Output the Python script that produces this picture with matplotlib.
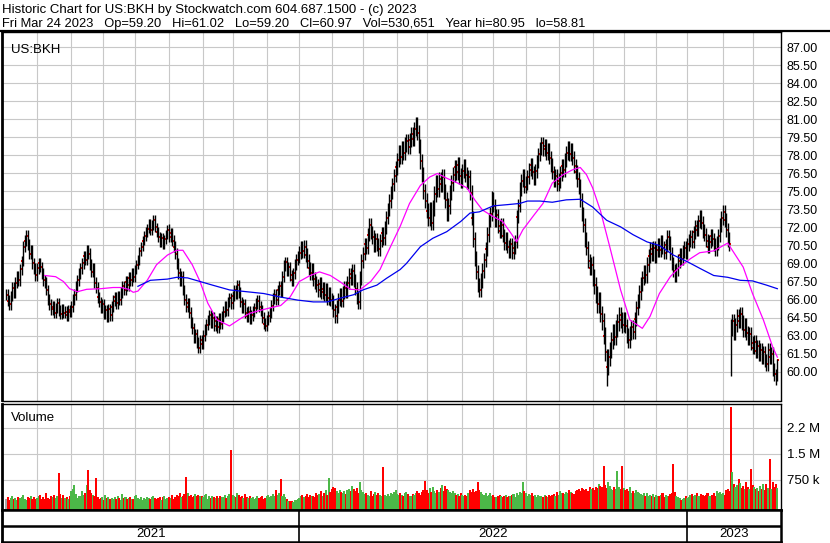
import numpy as np
import matplotlib
matplotlib.use('Agg')
import matplotlib.pyplot as plt

plt.rcParams['font.family'] = ['Liberation Sans', 'DejaVu Sans']

W, H = 830, 543

# daily closes, Apr 2021 .. Mar 24 2023 (one line = 10 sessions)
closes = [
    66.4, 65.9, 65.6, 66.3, 67.0, 66.6, 67.4, 67.9, 67.6, 68.5,
    69.2, 70.4, 70.9, 71.3, 70.6, 69.8, 70.1, 69.0, 68.6, 68.0,
    68.6, 69.0, 68.7, 68.2, 67.6, 67.4, 66.8, 66.0, 65.6, 65.2,
    65.4, 64.9, 65.3, 65.7, 65.1, 64.8, 65.2, 64.9, 65.0, 64.7,
    65.1, 65.0, 65.4, 66.0, 66.4, 67.1, 67.6, 68.2, 68.6, 69.0,
    69.6, 69.3, 70.1, 69.8, 68.9, 68.3, 68.6, 67.4, 67.0, 66.2,
    65.8, 65.3, 65.6, 64.8, 65.1, 64.6, 65.2, 64.7, 65.4, 65.9,
    66.2, 65.7, 66.3, 66.0, 66.6, 67.1, 66.8, 67.5, 67.2, 67.8,
    67.6, 68.2, 67.9, 68.5, 68.9, 69.3, 70.0, 70.4, 70.9, 71.3,
    71.6, 71.9, 72.3, 71.8, 72.2, 72.6, 72.0, 71.6, 71.2, 70.8,
    71.1, 70.6, 71.0, 71.4, 71.8, 71.2, 71.5, 70.9, 70.4, 69.8,
    69.0, 68.2, 67.6, 67.9, 66.8, 66.0, 65.4, 65.7, 64.9, 64.1,
    63.6, 62.8, 63.1, 62.4, 62.0, 62.6, 62.3, 63.0, 63.5, 63.9,
    64.3, 64.7, 64.1, 64.5, 63.8, 64.2, 63.7, 64.4, 64.0, 64.6,
    65.0, 65.4, 65.1, 65.8, 66.1, 65.7, 66.3, 66.8, 66.5, 67.2,
    66.6, 65.8, 65.3, 65.6, 64.9, 64.6, 65.0, 64.4, 64.7, 65.0,
    65.3, 65.7, 65.9, 65.4, 65.1, 64.5, 64.0, 63.8, 64.3, 64.6,
    64.9, 65.5, 66.1, 66.4, 66.0, 66.8, 67.1, 66.7, 67.9, 68.8,
    69.1, 68.4, 68.7, 68.0, 67.6, 68.2, 68.9, 69.3, 69.6, 69.9,
    70.3, 70.0, 70.4, 69.7, 69.2, 68.6, 68.2, 68.5, 67.7, 67.4,
    67.2, 66.8, 67.3, 66.6, 66.9, 66.4, 66.8, 66.1, 66.5, 66.0,
    65.8, 65.1, 64.6, 65.4, 66.0, 66.4, 65.9, 66.6, 67.0, 66.7,
    67.4, 68.1, 67.8, 68.4, 67.6, 66.9, 66.2, 65.8, 67.8, 69.2,
    69.8, 70.6, 70.3, 71.4, 72.2, 71.6, 71.2, 70.5, 71.0, 70.6,
    70.2, 70.9, 71.5, 71.1, 72.0, 72.8, 73.5, 74.2, 74.9, 75.6,
    76.3, 77.0, 77.6, 78.3, 77.9, 78.6, 78.2, 78.9, 79.2, 78.7,
    79.3, 79.8, 79.4, 80.2, 80.6, 79.9, 78.8, 77.5, 76.4, 75.0,
    74.2, 73.4, 72.8, 73.5, 72.4, 73.6, 74.8, 75.7, 75.2, 76.0,
    75.6, 76.2, 75.0, 74.3, 73.2, 73.8, 74.9, 75.7, 76.4, 77.0,
    76.6, 77.2, 76.3, 75.9, 76.7, 77.1, 76.4, 75.8, 76.2, 74.9,
    72.8, 71.0, 69.4, 68.3, 67.2, 66.8, 67.6, 68.4, 69.3, 70.2,
    71.4, 72.6, 73.1, 74.4, 73.8, 72.6, 73.0, 72.1, 71.7, 72.2,
    71.3, 70.7, 71.1, 70.4, 70.0, 70.6, 69.9, 70.3, 70.8, 72.9,
    73.8, 75.2, 75.9, 76.3, 75.4, 75.7, 76.2, 76.8, 77.2, 76.6,
    76.1, 76.7, 77.5, 78.1, 78.6, 79.0, 78.5, 78.8, 78.2, 78.5,
    77.8, 77.2, 76.6, 75.9, 76.3, 75.6, 75.9, 76.5, 77.1, 76.8,
    77.6, 78.2, 78.6, 78.1, 78.4, 77.8, 77.1, 76.6, 76.0, 75.4,
    74.3, 73.1, 72.2, 71.0, 70.3, 69.2, 68.6, 68.9, 67.8, 67.2,
    66.4, 65.6, 65.9, 64.8, 64.2, 63.0, 61.6, 60.4, 61.2, 61.8,
    62.6, 63.3, 62.9, 63.6, 64.1, 64.7, 64.3, 63.9, 64.4, 63.8,
    63.0, 62.6, 63.2, 63.7, 63.3, 64.4, 65.3, 65.9, 66.6, 67.3,
    67.8, 68.3, 68.0, 68.9, 69.6, 70.2, 69.8, 70.3, 69.6, 70.1,
    70.6, 70.1, 70.8, 70.3, 69.9, 70.5, 71.2, 70.7, 69.8, 69.0,
    68.4, 68.0, 68.5, 69.2, 69.7, 69.4, 70.0, 70.3, 69.9, 70.6,
    70.9, 71.2, 70.8, 71.6, 72.1, 71.8, 72.5, 72.9, 72.4, 71.7,
    71.4, 70.9, 70.4, 70.8, 71.3, 71.0, 70.6, 70.2, 70.7, 71.3,
    72.2, 72.8, 73.3, 72.6, 71.8, 71.0, 70.6, 63.6, 64.2, 63.2,
    63.9, 64.6, 64.2, 64.8, 64.1, 63.5, 63.9, 63.2, 62.8, 63.1,
    62.4, 62.0, 62.5, 61.7, 62.1, 61.4, 61.8, 61.2, 61.6, 60.9,
    60.6, 61.8, 61.2, 61.5, 60.2, 59.8, 59.4, 60.97,
]

# daily volume, thousands of shares
volumes = [
    210, 260, 180, 240, 300, 190, 230, 170, 260, 220,
    250, 310, 200, 180, 270, 230, 290, 210, 250, 190,
    230, 280, 330, 200, 250, 210, 370, 240, 200, 280,
    260, 330, 220, 290, 950, 350, 240, 310, 220, 260,
    200, 280, 440, 500, 600, 350, 230, 280, 300, 420,
    330, 380, 600, 1040, 450, 360, 310, 280, 810, 260,
    200, 230, 250, 180, 330, 220, 260, 190, 240, 210,
    250, 200, 300, 220, 180, 350, 240, 270, 200, 230,
    260, 210, 190, 280, 320, 230, 200, 250, 180, 220,
    210, 260, 230, 190, 250, 280, 220, 200, 240, 260,
    180, 250, 280, 210, 230, 260, 240, 310, 200, 270,
    330, 290, 360, 250, 300, 340, 840, 360, 280, 310,
    260, 300, 350, 280, 330, 300, 290, 250, 320, 340,
    210, 280, 240, 300, 260, 220, 280, 230, 290, 250,
    260, 310, 240, 290, 350, 1600, 330, 300, 270, 360,
    310, 260, 290, 230, 350, 270, 240, 300, 220, 260,
    200, 240, 280, 230, 260, 300, 210, 240, 280, 320,
    250, 300, 340, 280, 460, 320, 360, 780, 300, 340,
    260, 200, 150, 130, 140, 120, 160, 180, 210, 240,
    280, 320, 260, 300, 350, 270, 330, 290, 300, 250,
    380, 310, 350, 420, 300, 360, 450, 330, 810, 400,
    480, 560, 520, 430, 370, 460, 400, 380, 420, 350,
    460, 500, 420, 580, 480, 420, 520, 380, 690, 450,
    400, 350, 380, 320, 300, 420, 280, 350, 400, 310,
    360, 330, 300, 1120, 330, 280, 350, 300, 380, 340,
    400, 460, 350, 320, 380, 330, 300, 360, 410, 350,
    300, 280, 350, 320, 380, 430, 360, 330, 400, 450,
    730, 450, 380, 520, 400, 560, 420, 380, 460, 400,
    520, 600, 430, 580, 500, 470, 400, 360, 420, 380,
    330, 350, 300, 360, 310, 280, 330, 300, 380, 450,
    400, 480, 390, 420, 700, 460, 400, 350, 330, 380,
    300, 330, 360, 280, 310, 270, 250, 300, 320, 280,
    260, 290, 310, 250, 280, 300, 330, 350, 270, 380,
    320, 410, 360, 690, 420, 380, 300, 340, 310, 360,
    290, 330, 270, 310, 280, 300, 260, 320, 290, 270,
    330, 280, 310, 350, 300, 390, 330, 420, 360, 380,
    340, 400, 370, 450, 410, 380, 350, 430, 470, 500,
    430, 520, 480, 460, 500, 440, 560, 480, 520, 450,
    560, 520, 630, 580, 540, 1150, 600, 520, 680, 580,
    500, 460, 540, 480, 1000, 560, 480, 1150, 520, 460,
    480, 420, 560, 380, 420, 360, 450, 400, 380, 350,
    330, 380, 300, 360, 280, 320, 300, 350, 270, 310,
    300, 280, 320, 360, 250, 330, 300, 280, 350, 380,
    1200, 400, 300, 260, 220, 180, 200, 240, 280, 230,
    260, 310, 350, 280, 330, 380, 300, 280, 340, 310,
    290, 320, 360, 300, 280, 330, 360, 300, 420, 380,
    400, 350, 380, 320, 450, 480, 420, 2860, 990, 620,
    560, 600, 780, 650, 520, 580, 480, 690, 560, 500,
    1070, 600, 560, 480, 520, 440, 580, 500, 620, 460,
    630, 520, 1360, 480, 700, 560, 620, 531,
]

# session index where each month starts (May 2021 .. Mar 2023)
month_starts = [20, 42, 62.5, 83, 105, 127, 146, 168, 189, 210, 230, 252,
                271, 294, 314, 335, 356, 378, 398, 419, 439, 462, 481]
year_starts = [189, 439]
year_labels = ['2021', '2022', '2023']

# typical wick beyond the open/close span, per month Apr 2021 .. Mar 2023
wick = [0.45, 0.45, 0.45, 0.45, 0.4, 0.45, 0.45, 0.45, 0.45,
        0.55, 0.55, 0.55, 0.6, 0.65, 0.6, 0.55, 0.55, 0.6, 0.7, 0.6, 0.55,
        0.55, 0.6, 0.55]
# sessions with a known high / low
bar_fix = {387: (61.9, 58.81), 467: (64.4, 59.6), 496: (60.2, 58.9), 497: (61.02, 59.20)}
open_fix = {467: 64.1, 497: 59.20}

# moving averages (session index, value)
fast_idx = [25, 32, 37, 41, 46, 52, 61, 69, 74, 79, 82, 85, 91, 97, 104, 110,
            114, 120, 125, 130, 136, 144, 151, 157, 164, 170, 177, 183, 189,
            196, 202, 209, 215, 222, 228, 235, 241, 247, 254, 260, 267, 273,
            278, 284, 291, 297, 302, 307, 314, 320, 326, 329, 333, 340, 346,
            352, 359, 365, 370, 374, 378, 383, 389, 396, 402, 410, 415, 421,
            428, 434, 441, 447, 456, 465, 468, 475, 481, 488, 494, 497]
fast_val = [68.0, 67.9, 67.5, 66.9, 66.65, 66.85, 66.9, 67.0, 67.0, 66.85,
            66.6, 66.7, 67.6, 68.9, 69.7, 70.1, 70.1, 68.9, 67.5, 65.7, 64.3,
            63.8, 64.4, 64.85, 65.1, 65.3, 65.5, 66.2, 67.5, 68.0, 68.3, 68.0,
            67.5, 66.85, 66.8, 67.5, 68.5, 70.2, 72.1, 74.0, 75.5, 76.2, 76.5,
            76.1, 75.7, 75.3, 74.3, 73.45, 72.9, 72.5, 71.4, 70.8, 71.8, 73.0,
            74.0, 75.7, 76.4, 76.8, 77.0, 76.4, 75.3, 73.4, 70.4, 66.8, 64.3,
            63.6, 64.6, 66.5, 67.9, 68.7, 69.4, 69.9, 70.05, 70.7, 70.1, 68.7,
            66.5, 64.3, 62.05, 61.2]
slow_idx = [85, 93, 104, 110, 117, 125, 133, 144, 155, 166, 177, 188, 198,
            207, 215, 224, 230, 239, 245, 254, 258, 267, 275, 284, 293, 299,
            305, 314, 323, 331, 336, 344, 352, 361, 370, 378, 387, 396, 404,
            413, 421, 430, 439, 447, 456, 465, 473, 481, 490, 497]
slow_val = [67.1, 67.6, 67.7, 67.85, 67.8, 67.5, 67.2, 66.8, 66.65, 66.5,
            66.2, 65.95, 65.8, 65.8, 66.1, 66.4, 66.8, 67.2, 67.75, 68.5, 69.0,
            70.4, 71.1, 71.65, 72.5, 73.2, 73.3, 73.8, 73.9, 74.0, 74.2, 74.2,
            74.1, 74.3, 74.35, 73.7, 72.6, 72.05, 71.4, 70.8, 70.5, 69.7,
            69.15, 68.6, 68.0, 67.85, 67.6, 67.55, 67.2, 66.9]

header1 = "Historic Chart for US:BKH by Stockwatch.com 604.687.1500 - (c) 2023"
header2 = ("Fri Mar 24 2023   Op=59.20   Hi=61.02   Lo=59.20   Cl=60.97   "
           "Vol=530,651   Year hi=80.95   lo=58.81")

# ---- derived bars
c = np.array(closes)
n = len(c)
idx = np.arange(n)
op = np.concatenate([[c[0]], c[:-1]])
for k, v in open_fix.items():
    op[k] = v
seg = np.searchsorted(month_starts, idx, side='right')
w = np.array(wick)[seg]
hi = np.maximum(op, c) + w
lo = np.minimum(op, c) - w
for k, (h, l) in bar_fix.items():
    hi[k] = h
    lo[k] = l
chg = c - np.concatenate([[c[0]], c[:-1]])
vcol = np.where(chg > 0, '#4cb848', np.where(chg < 0, '#ff0000', '#a8a8a8'))

# ---- layout in pixels
x0px, step = 6.0, 1.552
L, R = 2.0, 780.5


def px_axes(fig, top, bottom):
    return fig.add_axes([L / W, 1 - bottom / H, (R - L) / W, (bottom - top) / H])


xlim = ((L - x0px) / step, (R - x0px) / step)
grid = '#c8c8c8'

fig = plt.figure(figsize=(W / 100, H / 100), dpi=100)
fig.patch.set_facecolor('white')

# price panel
ax = px_axes(fig, 31.5, 400.5)
ax.set_xlim(xlim)
ax.set_ylim(57.59, 88.32)
ticks = np.arange(60, 87.01, 1.5)
ax.set_yticks(ticks)
ax.set_yticklabels(['%.2f' % t for t in ticks])
ax.set_xticks(month_starts)
ax.yaxis.tick_right()
ax.tick_params(axis='y', length=0, pad=4.5, labelsize=9)
ax.tick_params(axis='x', length=0, labelbottom=False)
ax.grid(True, color=grid, linewidth=0.8)
ax.set_axisbelow(True)
ax.scatter(idx + 0.55, c, s=3, marker='s', color='#ff0000', linewidths=0, zorder=2)
ax.vlines(idx, lo, hi, colors='black', linewidth=1.0, zorder=3)
ax.plot(fast_idx, fast_val, color='#ff00ff', linewidth=0.9, zorder=4)
ax.plot(slow_idx, slow_val, color='#0000ee', linewidth=0.9, zorder=4)
ax.text(0.011, 0.965, 'US:BKH', transform=ax.transAxes,
        fontsize=9.5, va='top', ha='left')
for s in ax.spines.values():
    s.set_linewidth(1.0)
ax.spines['left'].set_linewidth(2.0)

# volume panel
av = px_axes(fig, 403.5, 509.5)
vbot = -101
av.set_xlim(xlim)
av.set_ylim(vbot, 2950)
av.bar(idx, np.array(volumes) - vbot, bottom=vbot, width=1.3, color=vcol,
       linewidth=0, antialiased=False)
av.set_yticks([750, 1500, 2250])
av.set_yticklabels(['750 k', '1.5 M', '2.2 M'])
av.set_xticks(month_starts)
av.yaxis.tick_right()
av.tick_params(axis='y', length=0, pad=4.5, labelsize=9.5)
av.tick_params(axis='x', length=0, labelbottom=False)
av.grid(True, color=grid, linewidth=0.8)
av.set_axisbelow(True)
av.text(0.011, 0.92, 'Volume', transform=av.transAxes, fontsize=9.5, va='top', ha='left')
for s in av.spines.values():
    s.set_linewidth(1.0)
av.spines['left'].set_linewidth(2.0)
av.spines['bottom'].set_linewidth(1.8)

# date strip
ad = px_axes(fig, 509.5, 541.5)
ad.set_xlim(xlim)
ad.set_ylim(0, 1)
ad.set_xticks([])
ad.set_yticks([])
ad.axhline(0.5, color='black', linewidth=1.8)
for yb in year_starts:
    ad.axvline(yb, color='black', linewidth=1.2)
edges = [xlim[0]] + year_starts + [xlim[1]]
for a, b, lab in zip(edges[:-1], edges[1:], year_labels):
    ad.text((a + b) / 2, 0.22, lab, fontsize=9.5, ha='center', va='center')
for s in ad.spines.values():
    s.set_linewidth(1.8)
ad.spines['left'].set_linewidth(2.0)

# header
fig.text(2 / W, 1 - 12.5 / H, header1, fontsize=9.5, va='baseline', ha='left')
fig.text(2 / W, 1 - 26.5 / H, header2, fontsize=9.25, va='baseline', ha='left')
fig.add_artist(plt.Line2D([0, 1], [1 - 31 / H, 1 - 31 / H], color='black', linewidth=1.6))

fig.savefig('out.png', dpi=100)
